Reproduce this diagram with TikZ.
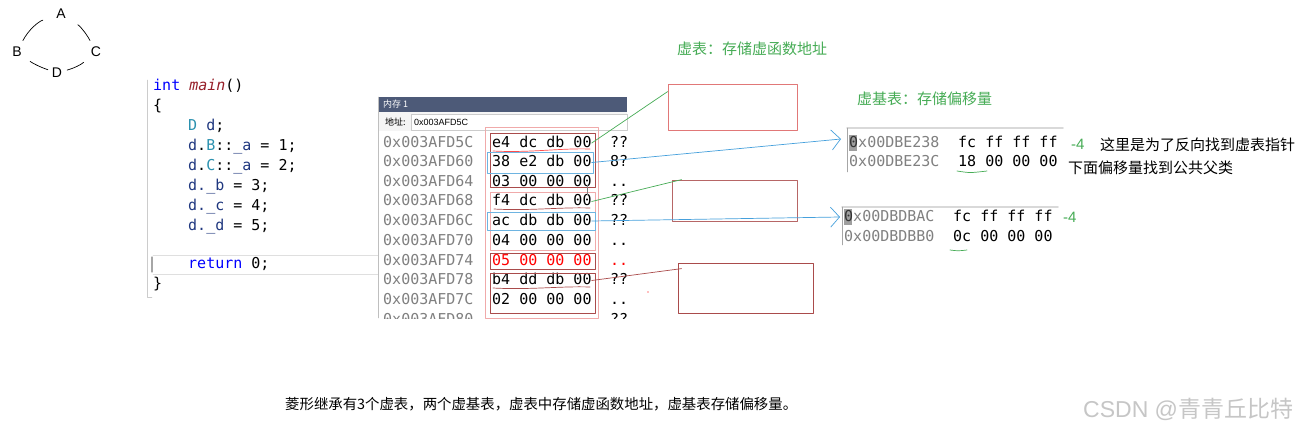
\documentclass[tikz,border=0pt]{standalone}
\usepackage{fontspec}
\setmainfont{Liberation Sans}
\setmonofont{DejaVu Sans Mono}
\newfontfamily\cjk{Noto Sans CJK SC}
\usetikzlibrary{positioning,arrows.meta}
\definecolor{vskey}{RGB}{0,0,255}
\definecolor{vsfunc}{RGB}{150,30,40}
\definecolor{vstype}{RGB}{43,145,175}
\definecolor{vsvar}{RGB}{31,55,127}
\definecolor{addrgray}{RGB}{128,128,128}
\definecolor{notegreen}{RGB}{70,172,85}
\definecolor{titlebar}{RGB}{77,90,120}
\definecolor{boxred}{RGB}{170,75,75}
\definecolor{boxpink}{RGB}{240,170,170}
\definecolor{boxblue}{RGB}{110,180,225}
\definecolor{linkblue}{RGB}{70,160,220}
\definecolor{hintred}{RGB}{225,120,120}
\tikzset{
  codeline/.style={anchor=west, inner sep=0pt, font=\ttfamily\fontsize{15}{15}\selectfont, text height=11pt, text depth=3pt},
  addrline/.style={codeline, text=addrgray},
  note/.style={anchor=west, inner sep=0pt, font=\cjk\fontsize{15}{15}\selectfont},
  vertex/.style={inner sep=1pt, font=\fontsize{14}{14}\selectfont},
  hintbox/.style={draw, inner sep=0pt, line width=0.8pt},
  hand/.style={line width=0.7pt},
  barb/.style={-{Straight Barb[length=9pt, width=20pt]}},
}
\begin{document}
\begin{tikzpicture}[x=1pt, y=-1pt, line join=round, line cap=round]
	\useasboundingbox[fill=white] (0,0) rectangle (1306,431);
	% diamond
	\node[vertex] (A) at (61,14) {A};
	\node[vertex] (B) at (17,52) {B};
	\node[vertex] (C) at (96,52) {C};
	\node[vertex] (D) at (57,73) {D};
	\draw[hand, shorten <=13pt, shorten >=6pt] (A) to[bend right=22] (B);
	\draw[hand, shorten <=13pt, shorten >=6pt] (A) to[bend left=15] (C);
	\draw[hand, shorten <=9pt, shorten >=3pt] (B) to[bend right=8] (D);
	\draw[hand, shorten <=4pt, shorten >=8pt] (D) to[bend right=12] (C);
	% code editor
	\draw[gray!40] (147,80) -- (147,297) -- (152,297);
	\draw[gray!25] (153,255) -- (378,255) (153,274) -- (378,274);
	\draw[gray!70, line width=1.2pt] (152,257) -- (152,272);
	\node[codeline] (l1) at (153,86) {\textcolor{vskey}{int} \textcolor{vsfunc}{\itshape main}()};
	\node[codeline] (l2) at (153,106) {\{};
	\node[codeline] (l3) at (188,126) {\textcolor{vstype}{D} \textcolor{vsvar}{d};};
	\node[codeline] (l4) at (188,146) {\textcolor{vsvar}{d}.\textcolor{vstype}{B}::\textcolor{vsvar}{\_a} = 1;};
	\node[codeline] (l5) at (188,166) {\textcolor{vsvar}{d}.\textcolor{vstype}{C}::\textcolor{vsvar}{\_a} = 2;};
	\node[codeline] (l6) at (188,186) {\textcolor{vsvar}{d.\_b} = 3;};
	\node[codeline] (l7) at (188,206) {\textcolor{vsvar}{d.\_c} = 4;};
	\node[codeline] (l8) at (188,226) {\textcolor{vsvar}{d.\_d} = 5;};
	\node[codeline] (l9) at (188,264) {\textcolor{vskey}{return} 0;};
	\node[codeline] (l10) at (153,284) {\}};
	% memory window
	\fill[white] (378,97) rectangle (630,318);
	\fill[titlebar] (378,97) rectangle (627,112);
	\node[anchor=west, inner sep=0pt, text=white, font=\cjk\fontsize{9}{9}\selectfont] (title) at (383,104.5) {内存 1};
	\fill[gray!8] (378,112) rectangle (627,131);
	\node[anchor=west, inner sep=0pt, font=\cjk\fontsize{9}{9}\selectfont] (adrlabel) at (385,122) {地址:};
	\draw[gray!40, fill=white] (411,114) rectangle (627,130);
	\node[anchor=west, inner sep=0pt, font=\fontsize{9}{9}\selectfont] (adrfield) at (414,122) {0x003AFD5C};
	\draw[gray!50] (378,97) -- (378,318);
	\begin{scope}
		\clip (378,131) rectangle (630,318);
		\node[addrline] (a5C) at (383,143) {0x003AFD5C}; \node[codeline] (m5C) at (492,143) {e4 dc db 00}; \node[codeline] (c5C) at (610,143) {??};
		\node[addrline] (a60) at (383,162.5) {0x003AFD60}; \node[codeline] (m60) at (492,162.5) {38 e2 db 00}; \node[codeline] (c60) at (610,162.5) {8?};
		\node[addrline] (a64) at (383,182) {0x003AFD64}; \node[codeline] (m64) at (492,182) {03 00 00 00}; \node[codeline] (c64) at (610,182) {..};
		\node[addrline] (a68) at (383,201.5) {0x003AFD68}; \node[codeline] (m68) at (492,201.5) {f4 dc db 00}; \node[codeline] (c68) at (610,201.5) {??};
		\node[addrline] (a6C) at (383,221) {0x003AFD6C}; \node[codeline] (m6C) at (492,221) {ac db db 00}; \node[codeline] (c6C) at (610,221) {??};
		\node[addrline] (a70) at (383,241) {0x003AFD70}; \node[codeline] (m70) at (492,241) {04 00 00 00}; \node[codeline] (c70) at (610,241) {..};
		\node[addrline] (a74) at (383,261) {0x003AFD74}; \node[codeline, text=red] (m74) at (492,261) {05 00 00 00}; \node[codeline, text=red] (c74) at (610,261) {..};
		\node[addrline] (a78) at (383,280.5) {0x003AFD78}; \node[codeline] (m78) at (492,280.5) {b4 dd db 00}; \node[codeline] (c78) at (610,280.5) {??};
		\node[addrline] (a7C) at (383,300) {0x003AFD7C}; \node[codeline] (m7C) at (492,300) {02 00 00 00}; \node[codeline] (c7C) at (610,300) {..};
		\node[addrline] (a80) at (383,320) {0x003AFD80}; \node[codeline] (c80) at (610,320) {??};
	\end{scope}
	\draw[boxpink] (485,127) rectangle (598,318);
	\draw[boxred] (490,133) rectangle (595,187);
	\draw[boxblue] (487,152) rectangle (593,173);
	\draw[boxpink] (490,192) rectangle (595,250);
	\draw[boxblue] (487,212) rectangle (595,230);
	\draw[boxred] (490,253) rectangle (595,269);
	\draw[boxred] (490,273) rectangle (595,313);
	\draw[gray] (587,185) -- (587,195);
	\draw[red!70, hand] (493,151) .. controls (530,153) and (560,148) .. (590,149);
	\draw[boxred, hand] (494,209) .. controls (530,211) and (560,207) .. (590,208);
	\draw[boxred, hand] (493,288) .. controls (530,290) and (560,286) .. (590,287);
	\fill[red!50] (648,292) circle (0.8);
	% notes
	\node[note, text=notegreen] (vftitle) at (677,49) {虚表：存储虚函数地址};
	\node[note, text=notegreen] (vbtitle) at (857,99) {虚基表：存储偏移量};
	\node[hintbox, draw=hintred, minimum width=129pt, minimum height=46pt] (notebox1) at (732.5,107) {};
	\node[hintbox, draw=boxred!85, minimum width=125pt, minimum height=41pt] (notebox2) at (734.5,200.5) {};
	\node[hintbox, draw=boxred, minimum width=135pt, minimum height=50pt] (notebox3) at (745.5,288) {};
	% virtual base tables
	\draw[gray!30, line width=1.5pt] (847,128) -- (1063,128);
	\draw[gray!70] (847,128) -- (847,172);
	\fill[gray!75] (849,135) rectangle (857,151);
	\node[addrline] (vb1) at (849,143) {\textcolor{black!80}{0}x00DBE238};
	\node[codeline] (vb1data) at (958,143) {fc ff ff ff};
	\node[addrline] (vb1next) at (849,162.5) {0x00DBE23C};
	\node[codeline] (vb1off) at (958,162.5) {18 00 00 00};
	\draw[notegreen, hand] (957,171) .. controls (970,173) .. (987,171);
	\node[anchor=west, inner sep=0pt, text=notegreen, font=\fontsize{15}{15}\selectfont] (minus1) at (1071,144) {-4};
	\node[note] (explain1) at (1100,145) {这里是为了反向找到虚表指针};
	\node[note] (explain2) at (1068,168) {下面偏移量找到公共父类};
	\draw[gray!30, line width=1.5pt] (842,207) -- (1058,207);
	\draw[gray!70] (842,207) -- (842,245);
	\fill[gray!75] (844,209) rectangle (852,225);
	\node[addrline] (vb2) at (844,217) {\textcolor{black!80}{0}x00DBDBAC};
	\node[codeline] (vb2data) at (953,217) {fc ff ff ff};
	\node[addrline] (vb2next) at (844,237) {0x00DBDBB0};
	\node[codeline] (vb2off) at (953,237) {0c 00 00 00};
	\draw[notegreen, hand] (950,250) .. controls (958,251) .. (967,250);
	\node[anchor=west, inner sep=0pt, text=notegreen, font=\fontsize{15}{15}\selectfont] (minus2) at (1063,217) {-4};
	% links
	\draw[notegreen, hand] (m5C.east) -- ([yshift=-8pt]notebox1.north west);
	\draw[linkblue, hand, barb] (m60.east) -- ([xshift=-8pt, yshift=4pt]vb1.west);
	\draw[notegreen, hand] (m68.east) -- ([xshift=10pt]notebox2.north west);
	\draw[linkblue, hand, barb] (m6C.east) -- ([xshift=-4pt]vb2.west);
	\draw[boxred, hand] (m78.east) -- ([xshift=4pt, yshift=-6pt]notebox3.north west);
	% bottom
	\node[anchor=west, inner sep=0pt, font=\cjk\fontsize{14.4}{14.4}\selectfont] (summary) at (285,404) {菱形继承有3个虚表，两个虚基表，虚表中存储虚函数地址，虚基表存储偏移量。};
	\node[anchor=west, inner sep=0pt, text=gray!45, font=\fontsize{23}{23}\selectfont] (mark) at (1083,409) {CSDN @{\cjk 青青丘比特}};
\end{tikzpicture}
\end{document}
